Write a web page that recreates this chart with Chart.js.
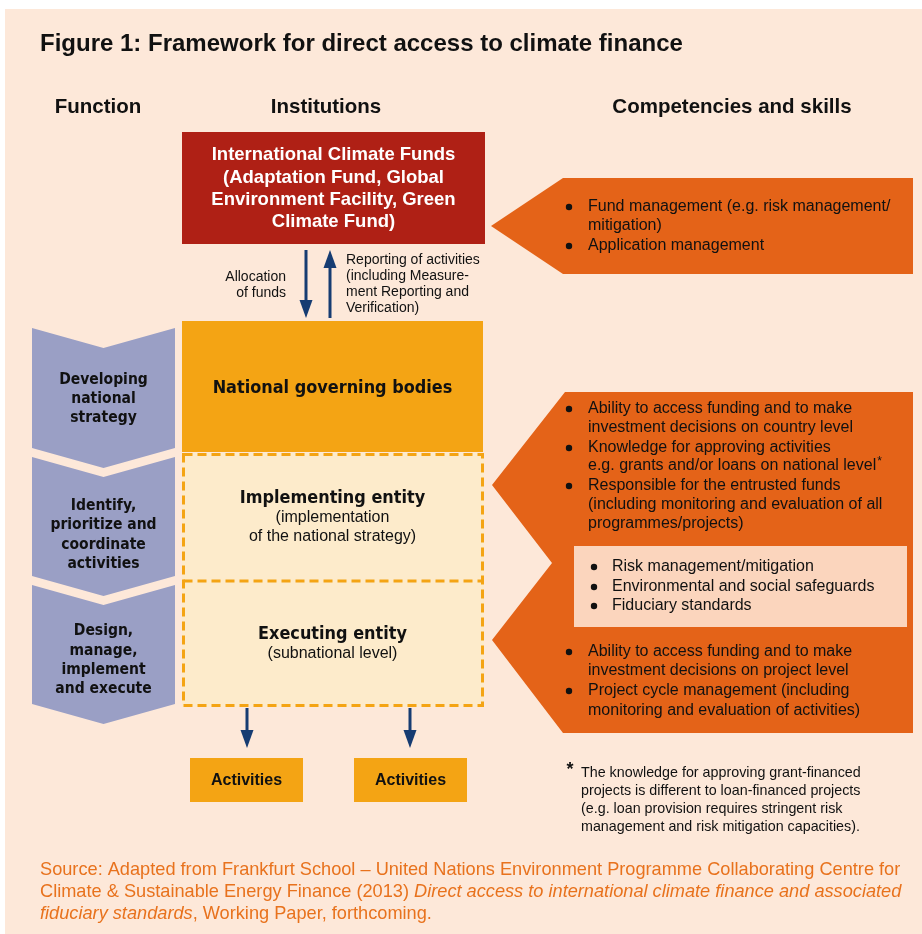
<!DOCTYPE html>
<html><head><meta charset="utf-8">
<script src="https://cdn.jsdelivr.net/npm/chart.js@4/dist/chart.umd.min.js"></script>
<style>html,body{margin:0;padding:0;background:#fff}#wrap{width:922px;height:934px;position:relative}</style>
</head><body><div id="wrap"><canvas id="c"></canvas></div>
<script>
// ---- content ----
const title = "Figure 1: Framework for direct access to climate finance";
const columnHeaders = ["Function", "Institutions", "Competencies and skills"];
const functionLabels = [["Developing", "national", "strategy"], ["Identify,", "prioritize and", "coordinate", "activities"], ["Design,", "manage,", "implement", "and execute"]];
const fundLines = ["International Climate Funds", "(Adaptation Fund, Global", "Environment Facility, Green", "Climate Fund)"];
const allocationLines = ["Allocation", "of funds"];
const reportingLines = ["Reporting of activities", "(including Measure-", "ment Reporting and", "Verification)"];
const nationalLabel = ["National governing bodies"];
const implementingLines = ["Implementing entity", "(implementation", "of the national strategy)"];
const executingLines = ["Executing entity", "(subnational level)"];
const activityLabels = ["Activities", "Activities"];
const fundSkills = [["Fund management (e.g. risk management/", "mitigation)"], ["Application management"]];
const countrySkills = [["Ability to access funding and to make", "investment decisions on country level"], ["Knowledge for approving activities", "e.g. grants and/or loans on national level*"], ["Responsible for the entrusted funds", "(including monitoring and evaluation of all", "programmes/projects)"]];
const safeguardSkills = [["Risk management/mitigation"], ["Environmental and social safeguards"], ["Fiduciary standards"]];
const projectSkills = [["Ability to access funding and to make", "investment decisions on project level"], ["Project cycle management (including", "monitoring and evaluation of activities)"]];
const footnoteLines = ["The knowledge for approving grant-financed", "projects is different to loan-financed projects", "(e.g. loan provision requires stringent risk", "management and risk mitigation capacities)."];
const sourceLines = [
  [["Source: Adapted from Frankfurt School \u2013 United Nations Environment Programme Collaborating Centre for", false]],
  [["Climate & Sustainable Energy Finance (2013) ", false], ["Direct access to international climate finance and associated", true]],
  [["fiduciary standards", true], [", Working Paper, forthcoming.", false]]
];

// ---- layout (positions/styles) ----
const L = {
  bg: [5, 9, 922, 934],
  title: [40, 44], headerY: 107, headerX: [98, 326, 732],
  fundBox: [182, 132, 485, 244], fundY: [155, 178, 200, 222],
  arrowDown: [306, 250, 318], arrowUp: [330, 318, 250],
  allocX: 286, allocY: [277, 293], repX: 346, repY: [260, 276, 292, 308],
  natBox: [182, 321, 483, 452], natY: [388],
  entityBox: [182, 453, 484, 707], entityDivider: 581,
  implY: [498, 518, 537], execY: [634, 654],
  chevX: [32, 175], chevTop: [328, 457, 585], chevBot: [448, 576, 704], notch: 20,
  chevTextY: [[380, 399, 418], [506, 525, 545, 564], [631, 651, 670, 689]],
  arrow1: [[491, 226], [563, 178], [913, 178], [913, 274], [563, 274]],
  arrow2: [[565, 392], [913, 392], [913, 733], [563, 733], [492, 640], [552, 563], [492, 485]],
  innerBox: [574, 546, 907, 627],
  bulletX: 569, bulletTextX: 588, innerBulletX: 594, innerTextX: 612,
  fundSkillY: [[207, 226], [246]],
  countrySkillY: [[409, 428], [448, 466], [486, 505, 524]],
  safeSkillY: [[567], [587], [606]],
  projectSkillY: [[652, 671], [691, 711]],
  actArrowX: [247, 410], actArrowY: [708, 748],
  actBoxes: [[190, 758, 303, 802], [354, 758, 467, 802]], actY: 781,
  footStar: [570, 770], footX: 581, footY: [773, 791, 809, 827],
  srcX: 40, srcY: [870, 892, 914]
};
const C = {
  bg: '#fde8d9', red: '#af2015', orange: '#e46318', yellow: '#f4a414', cream: '#fdebcb',
  lav: '#9a9fc5', navy: '#163c72', inner: '#fbd5bd', src: '#e8721d', text: '#111'
};
const SANS = "'Liberation Sans', Arial, sans-serif";
function f(weight, size, italic) { return { font: (italic ? 'italic ' : '') + weight + ' ' + size + 'px ' + SANS, sx: 1 }; }

const diagramPlugin = {
  id: 'diagram',
  beforeDatasetsDraw(chart) {
    const ctx = chart.ctx, sx = chart.scales.x, sy = chart.scales.y;
    const X = v => sx.getPixelForValue(v), Y = v => sy.getPixelForValue(v);
    function rect(b, fill) { ctx.fillStyle = fill; ctx.fillRect(X(b[0]), Y(b[1]), X(b[2]) - X(b[0]), Y(b[3]) - Y(b[1])); }
    function poly(pts, fill) { ctx.beginPath(); pts.forEach((p, i) => i ? ctx.lineTo(X(p[0]), Y(p[1])) : ctx.moveTo(X(p[0]), Y(p[1]))); ctx.closePath(); ctx.fillStyle = fill; ctx.fill(); }
    function txt(s, x, y, fo, color, align) {
      ctx.save(); ctx.font = fo.font; ctx.fillStyle = color; ctx.textBaseline = 'middle'; ctx.textAlign = align || 'left';
      ctx.translate(X(x), Y(y)); ctx.scale(fo.sx || 1, 1); ctx.fillText(s, 0, 0); ctx.restore();
    }
    function arrow(x, y0, y1) {
      const dir = y1 > y0 ? 1 : -1, head = 18, hw = 6.5;
      ctx.strokeStyle = C.navy; ctx.lineWidth = 3;
      ctx.beginPath(); ctx.moveTo(X(x), Y(y0)); ctx.lineTo(X(x), Y(y1 - dir * head)); ctx.stroke();
      poly([[x - hw, y1 - dir * head], [x + hw, y1 - dir * head], [x, y1]], C.navy);
    }
    function bullets(items, ys, bx, tx, fo) {
      items.forEach((lines, i) => {
        ctx.beginPath(); ctx.arc(X(bx), Y(ys[i][0]), 3.2, 0, Math.PI * 2); ctx.fillStyle = C.text; ctx.fill();
        lines.forEach((ln, j) => {
          if (ln.endsWith('*')) {
            const base = ln.slice(0, -1);
            txt(base, tx, ys[i][j], fo, C.text);
            ctx.font = fo.font; const w = ctx.measureText(base).width;
            txt('*', tx + w + 1, ys[i][j] - 4, f('normal', 12), C.text);
          } else txt(ln, tx, ys[i][j], fo, C.text);
        });
      });
    }

    // background
    ctx.fillStyle = '#fff'; ctx.fillRect(0, 0, chart.width, chart.height);
    rect(L.bg, C.bg);

    // title & headers
    txt(title, L.title[0], L.title[1], f('bold', 24), C.text);
    columnHeaders.forEach((h, i) => txt(h, L.headerX[i], L.headerY, f('bold', 20.5), C.text, 'center'));

    // chevrons
    const cx = (L.chevX[0] + L.chevX[1]) / 2;
    L.chevTop.forEach((t, i) => {
      const b = L.chevBot[i];
      poly([[L.chevX[0], t], [cx, t + L.notch], [L.chevX[1], t], [L.chevX[1], b], [cx, b + L.notch], [L.chevX[0], b]], C.lav);
      functionLabels[i].forEach((ln, j) => txt(ln, cx, L.chevTextY[i][j], { font: "bold 15.5px 'DejaVu Sans'", sx: 0.9 }, C.text, 'center'));
    });

    // fund box
    rect(L.fundBox, C.red);
    const fcx = (L.fundBox[0] + L.fundBox[2]) / 2;
    fundLines.forEach((ln, j) => txt(ln, fcx, L.fundY[j], f('bold', 18.5), '#fff', 'center'));

    // arrows and labels
    arrow(L.arrowDown[0], L.arrowDown[1], L.arrowDown[2]);
    arrow(L.arrowUp[0], L.arrowUp[1], L.arrowUp[2]);
    const small = f('normal', 14);
    allocationLines.forEach((ln, j) => txt(ln, L.allocX, L.allocY[j], small, C.text, 'right'));
    reportingLines.forEach((ln, j) => txt(ln, L.repX, L.repY[j], small, C.text, 'left'));

    // institution boxes
    rect(L.natBox, C.yellow);
    const eb = L.entityBox;
    rect(eb, C.cream);
    ctx.save(); ctx.strokeStyle = C.yellow; ctx.lineWidth = 3; ctx.setLineDash([9, 5]);
    ctx.strokeRect(X(eb[0]) + 1.5, Y(eb[1]) + 1.5, X(eb[2]) - X(eb[0]) - 3, Y(eb[3]) - Y(eb[1]) - 3);
    ctx.beginPath(); ctx.moveTo(X(eb[0]) + 1.5, Y(L.entityDivider)); ctx.lineTo(X(eb[2]) - 1.5, Y(L.entityDivider)); ctx.stroke();
    ctx.restore();
    const icx = (L.natBox[0] + L.natBox[2]) / 2;
    const head = { font: "bold 17.5px 'DejaVu Sans'", sx: 0.92 };
    const sub = f('normal', 16);
    txt(nationalLabel[0], icx, L.natY[0], head, C.text, 'center');
    implementingLines.forEach((ln, j) => txt(ln, icx, L.implY[j], j ? sub : head, C.text, 'center'));
    executingLines.forEach((ln, j) => txt(ln, icx, L.execY[j], j ? sub : head, C.text, 'center'));

    // competency arrows
    poly(L.arrow1, C.orange);
    poly(L.arrow2, C.orange);
    rect(L.innerBox, C.inner);
    const body = f('normal', 16);
    bullets(fundSkills, L.fundSkillY, L.bulletX, L.bulletTextX, body);
    bullets(countrySkills, L.countrySkillY, L.bulletX, L.bulletTextX, body);
    bullets(safeguardSkills, L.safeSkillY, L.innerBulletX, L.innerTextX, body);
    bullets(projectSkills, L.projectSkillY, L.bulletX, L.bulletTextX, body);

    // activities
    L.actArrowX.forEach(x => arrow(x, L.actArrowY[0], L.actArrowY[1]));
    L.actBoxes.forEach((b, i) => {
      rect(b, C.yellow);
      txt(activityLabels[i], (b[0] + b[2]) / 2, L.actY, f('bold', 16), C.text, 'center');
    });

    // footnote
    txt('*', L.footStar[0], L.footStar[1], f('bold', 18), C.text, 'center');
    footnoteLines.forEach((ln, j) => txt(ln, L.footX, L.footY[j], f('normal', 14.3), C.text));

    // source
    sourceLines.forEach((segs, j) => {
      let x = L.srcX;
      segs.forEach(([s, it]) => {
        const fo = f('normal', 18.2, it);
        txt(s, x, L.srcY[j], fo, C.src);
        ctx.font = fo.font; x += ctx.measureText(s).width;
      });
    });
  }
};

new Chart(document.getElementById('c'), {
  type: 'scatter',
  data: { datasets: [{ data: [], pointRadius: 0 }] },
  options: {
    responsive: true, maintainAspectRatio: false, animation: false,
    layout: { padding: 0 },
    plugins: { legend: { display: false }, tooltip: { enabled: false }, title: { display: false } },
    scales: {
      x: { type: 'linear', min: 0, max: 922, display: false },
      y: { type: 'linear', min: 0, max: 934, reverse: true, display: false }
    }
  },
  plugins: [diagramPlugin]
});
</script></body></html>
